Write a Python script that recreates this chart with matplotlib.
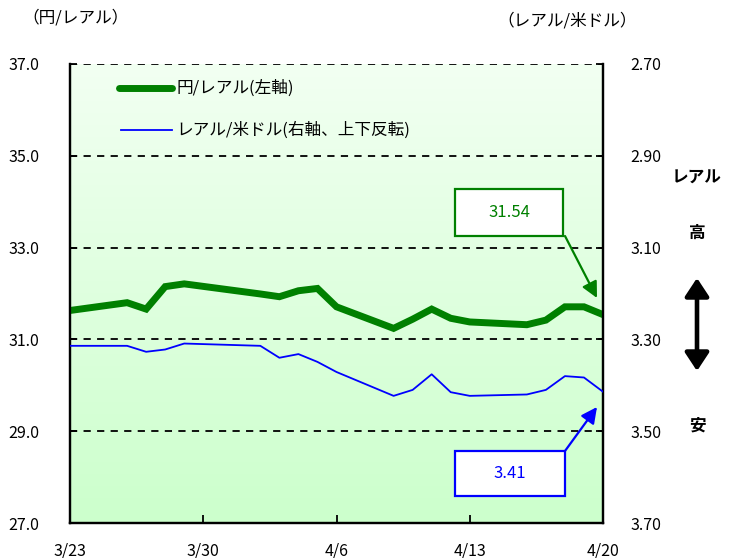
import matplotlib
matplotlib.use("Agg")
import matplotlib.pyplot as plt
import numpy as np
import pandas as pd
from matplotlib.patches import FancyArrowPatch

plt.rcParams['font.family'] = ['Noto Sans CJK JP', 'DejaVu Sans']

dates = ["2018-03-23", "2018-03-26", "2018-03-27", "2018-03-28", "2018-03-29",
         "2018-04-02", "2018-04-03", "2018-04-04", "2018-04-05", "2018-04-06",
         "2018-04-09", "2018-04-10", "2018-04-11", "2018-04-12", "2018-04-13",
         "2018-04-16", "2018-04-17", "2018-04-18", "2018-04-19", "2018-04-20"]
jpy_brl = [31.63, 31.80, 31.66, 32.15, 32.21,
           31.99, 31.93, 32.06, 32.11, 31.71,
           31.24, 31.44, 31.66, 31.46, 31.38,
           31.32, 31.42, 31.71, 31.71, 31.54]
brl_usd = [3.314, 3.314, 3.327, 3.322, 3.309,
           3.314, 3.340, 3.332, 3.349, 3.371,
           3.423, 3.410, 3.376, 3.415, 3.423,
           3.420, 3.410, 3.380, 3.383, 3.414]
xtick_dates = ["2018-03-23", "2018-03-30", "2018-04-06", "2018-04-13", "2018-04-20"]
xtick_labels = ["3/23", "3/30", "4/6", "4/13", "4/20"]
left_ticks = [27.0, 29.0, 31.0, 33.0, 35.0, 37.0]
right_ticks = [2.70, 2.90, 3.10, 3.30, 3.50, 3.70]

x = pd.to_datetime(dates)
xt = pd.to_datetime(xtick_dates)

fig = plt.figure(figsize=(7.29, 5.58), dpi=100)
W, H = 729, 558
l, r, t, b = 70, 603, 64, 523
ax = fig.add_axes([l / W, 1 - b / H, (r - l) / W, (b - t) / H])
ax2 = ax.twinx()

ax.set_xlim(xt[0], xt[-1])
ax.set_ylim(27, 37)
ax2.set_ylim(3.70, 2.70)

# gradient background
grad = np.linspace(0, 1, 256).reshape(-1, 1)
top_c = np.array([242, 255, 242]) / 255
bot_c = np.array([204, 255, 204]) / 255
img = top_c[None, None, :] * (1 - grad[:, :, None]) + bot_c[None, None, :] * grad[:, :, None]
ax.imshow(img, extent=[0, 1, 0, 1], transform=ax.transAxes, aspect='auto', zorder=0)

# grid
for v in [29, 31, 33, 35, 37]:
    ax.axhline(v, color='black', ls=(0, (4, 3.5)), lw=1.3, zorder=1)

ax.plot(x, jpy_brl, color='#008000', lw=5, zorder=3, solid_joinstyle='miter')
ax2.plot(x, brl_usd, color='#0000ff', lw=1.3, zorder=3)

for a in (ax, ax2):
    a.spines['top'].set_visible(False)
    for s in ('left', 'right', 'bottom'):
        a.spines[s].set_linewidth(1.6)
        a.spines[s].set_color('black')

ax.set_xticks(xt)
ax.set_xticklabels(xtick_labels)
ax.tick_params(axis='x', direction='in', length=6, width=1.3, pad=14, labelsize=11.5)
ax.set_yticks(left_ticks)
ax.set_yticklabels([f"{v:.1f}" for v in left_ticks])
ax.tick_params(axis='y', direction='in', length=5, width=1.3, pad=22, labelsize=11.5)
ax2.set_yticks(right_ticks)
ax2.set_yticklabels([f"{v:.2f}" for v in right_ticks])
ax2.tick_params(axis='y', direction='in', length=5, width=1.3, pad=20, labelsize=11.5)
ax.set_zorder(1)
ax2.set_zorder(2)
ax2.patch.set_visible(False)

# legend (manual)
fig.add_artist(plt.Line2D([119 / W, 172 / W], [1 - 88 / H, 1 - 88 / H], color='#008000', lw=5,
                          solid_capstyle='round'))
fig.text(176 / W, 1 - 88 / H, "円/レアル(左軸)", fontsize=12, va='center', ha='left')
fig.add_artist(plt.Line2D([121 / W, 172 / W], [1 - 130 / H, 1 - 130 / H], color='#0000ff', lw=1.3))
fig.text(176 / W, 1 - 130 / H, "レアル/米ドル(右軸、上下反転)", fontsize=12, va='center', ha='left')

# axis titles
fig.text(22 / W, 1 - 18 / H, "（円/レアル）", fontsize=12, va='center', ha='left')
fig.text(497 / W, 1 - 21 / H, "（レアル/米ドル）", fontsize=12, va='center', ha='left')

# side labels
fig.text(697 / W, 1 - 178 / H, "レアル", fontsize=12, fontweight='bold', va='center', ha='center')
fig.text(697 / W, 1 - 233 / H, "高", fontsize=12, fontweight='bold', va='center', ha='center')
fig.text(697 / W, 1 - 426 / H, "安", fontsize=12, fontweight='bold', va='center', ha='center')
arr = FancyArrowPatch((697 / W, 1 - 278 / H), (697 / W, 1 - 371 / H), transform=fig.transFigure,
                      arrowstyle='<|-|>,head_length=5,head_width=3.3', lw=3.3, color='black',
                      mutation_scale=2.2, shrinkA=0, shrinkB=0)
fig.add_artist(arr)

# value annotations
def boxed(x0, y0, x1, y1, text, color, ax_from, ay_from, ax_to, ay_to):
    rect = plt.Rectangle((x0 / W, 1 - y1 / H), (x1 - x0) / W, (y1 - y0) / H, transform=fig.transFigure,
                         facecolor='white', edgecolor=color, lw=1.6, zorder=5)
    fig.add_artist(rect)
    fig.text((x0 + x1) / 2 / W, 1 - (y0 + y1) / 2 / H, text, color=color, fontsize=12,
             ha='center', va='center', zorder=6)
    a = FancyArrowPatch((ax_from / W, 1 - ay_from / H), (ax_to / W, 1 - ay_to / H),
                        transform=fig.transFigure, arrowstyle='-|>,head_length=6,head_width=3',
                        lw=1.6, color=color, mutation_scale=1.6, shrinkA=0, shrinkB=0, zorder=6)
    fig.add_artist(a)

boxed(455, 189, 563, 236, f"{jpy_brl[-1]:.2f}", '#008000', 565, 236, 597, 298)
boxed(455, 451, 565, 496, f"{brl_usd[-1]:.2f}", '#0000ff', 565, 451, 597, 407)

fig.savefig("out.png", dpi=100)
